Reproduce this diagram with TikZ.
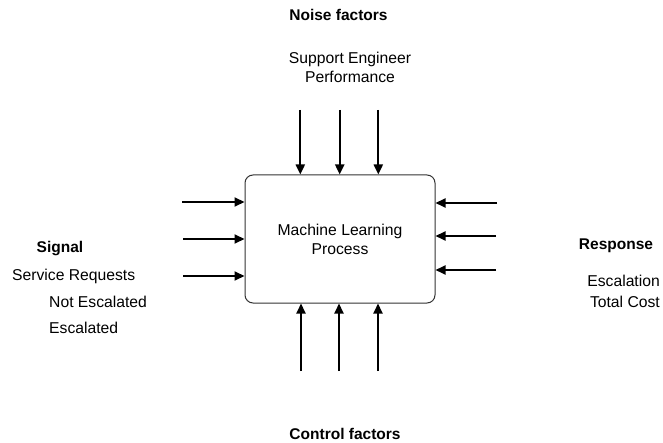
\documentclass[tikz,border=0pt]{standalone}
\usepackage{fontspec}
\setmainfont{Liberation Sans}
\usetikzlibrary{arrows.meta}
\begin{document}
\begin{tikzpicture}[x=1pt,y=-1pt,
  lbl/.style={font=\fontsize{15.7}{19}\selectfont, inner sep=0pt},
  hdr/.style={font=\fontsize{15.5}{19}\selectfont\bfseries, inner sep=0pt},
  arr/.style={line width=2pt, -{Triangle[length=10pt,width=9pt]}},
  procbox/.style={draw=black!80, line width=1pt, rounded corners=8pt,
    minimum width=190pt, minimum height=128pt, align=center,
    font=\fontsize{15.7}{19}\selectfont}]
\useasboundingbox (0,0) rectangle (663,443);

% central box
\node[procbox] (ml) at (340,239) {Machine Learning\\Process};

% labels
\node[hdr, anchor=base] (noise) at (338.5,20.5) {Noise factors};
\node[lbl, anchor=base] (sup1) at (350,63.6) {Support Engineer};
\node[lbl, anchor=base] (sup2) at (350,82.6) {Performance};

\node[hdr, anchor=base] (signal) at (60,253) {Signal};
\node[lbl, anchor=base west] (sr) at (12,280) {Service Requests};
\node[lbl, anchor=base west] (ne) at (49,307) {Not Escalated};
\node[lbl, anchor=base west] (esc) at (49,333) {Escalated};

\node[hdr, anchor=base] (resp) at (616,250) {Response};
\node[lbl, anchor=base east] (escr) at (660,287) {Escalation};
\node[lbl, anchor=base east] (tc) at (660,307) {Total Cost};

\node[hdr, anchor=base] (ctrl) at (345,439) {Control factors};

% arrow origins
\coordinate (t1) at (300.3,110);
\coordinate (t2) at (339.7,110);
\coordinate (t3) at (378.3,110);
\coordinate (b1) at (301,371);
\coordinate (b2) at (339,371);
\coordinate (b3) at (378,371);
\coordinate (l1) at (182,202);
\coordinate (l2) at (183,239);
\coordinate (l3) at (183,276);
\coordinate (r1) at (497,203);
\coordinate (r2) at (496,236);
\coordinate (r3) at (496,270);

\foreach \c in {t1,t2,t3}{\draw[arr] (\c) -- (\c |- ml.north);}
\foreach \c in {b1,b2,b3}{\draw[arr] (\c) -- (\c |- ml.south);}
\foreach \c in {l1,l2,l3}{\draw[arr] (\c) -- (\c -| ml.west);}
\foreach \c in {r1,r2,r3}{\draw[arr] (\c) -- (\c -| ml.east);}
\end{tikzpicture}
\end{document}
